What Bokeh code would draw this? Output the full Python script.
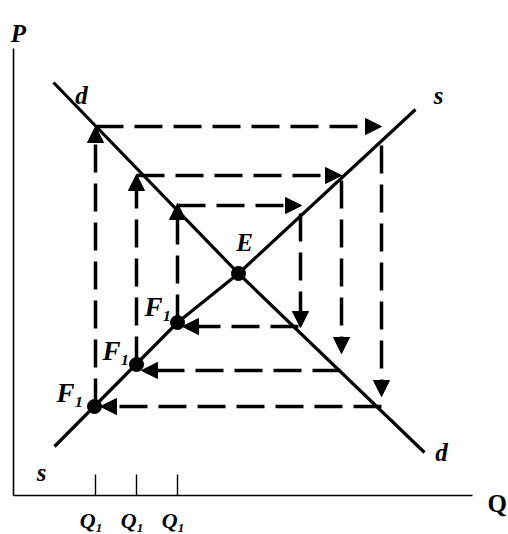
from bokeh.plotting import figure
from bokeh.models import Range1d, Arrow, NormalHead, ColumnDataSource
from bokeh.embed import file_html
from bokeh.resources import INLINE
from bokeh.core.properties import value

# ---- data (Q, P units) ----
axis_q = [0, 459]          # horizontal axis extent
axis_p = [0, 447]          # vertical axis extent

d_q = [40, 225, 411]       # demand curve
d_p = [413, 222, 43]
s_q = [41, 164, 225, 402]  # supply curve
s_p = [49, 173, 222, 386]

e_q = [225]                # equilibrium E
e_p = [222]

f_q = [81, 123, 164]       # F1 points
f_p = [89, 131, 173]

q_ticks = [82, 123, 164]
q_tick_labels = ["Q₁", "Q₁", "Q₁"]

# cobweb arrows (start -> end)
arr_q0 = [82, 82, 368, 368, 123, 123, 328, 327, 164, 164, 287, 285]
arr_p0 = [89, 369, 350, 89, 131, 320, 315, 125, 173, 290, 282, 169]
arr_q1 = [82, 368, 368, 87, 123, 328, 328, 128, 164, 288, 287, 169]
arr_p1 = [369, 369, 99, 89, 321, 320, 142, 125, 292, 290, 168, 169]

curve_labels = ["d", "s", "d", "s"]
curve_label_q = [68, 425, 428, 28]
curve_label_p = [400, 400, 43, 23]

f_labels = ["F₁", "F₁", "F₁"]
f_label_q = [43, 89, 131]
f_label_p = [103, 145, 189]

SERIF = value("Liberation Serif")

p = figure(width=508, height=534, output_backend="svg", toolbar_location=None,
           x_range=Range1d(-13, 495), y_range=Range1d(-39, 495),
           x_axis_location=None, y_axis_location=None, min_border=0,
           outline_line_color=None, background_fill_color="white",
           border_fill_color="white")
p.grid.visible = False

# axes
p.line([axis_q[0], axis_q[0]], axis_p, line_color="black", line_width=1.6)
p.line(axis_q, [axis_p[0], axis_p[0]], line_color="black", line_width=1.6)
p.segment(x0=q_ticks, y0=[0] * len(q_ticks), x1=q_ticks, y1=[21] * len(q_ticks),
          line_color="black", line_width=1.4)

# cobweb arrows
src = ColumnDataSource(dict(x0=arr_q0, y0=arr_p0, x1=arr_q1, y1=arr_p1))
arrows = Arrow(end=NormalHead(size=16, fill_color="black", line_color="black", line_width=1),
               source=src, x_start="x0", y_start="y0", x_end="x1", y_end="y1",
               line_color="black", line_width=3.5, line_dash="28 11", level="underlay")
p.add_layout(arrows)

# curves
p.line(d_q, d_p, line_color="black", line_width=3.2)
p.line(s_q, s_p, line_color="black", line_width=3.2)

# points
p.scatter(f_q, f_p, size=14, color="black")
p.scatter(e_q, e_p, size=14, color="black")

# labels
p.text(curve_label_q, curve_label_p, text=curve_labels, text_font=SERIF,
       text_font_style="bold italic", text_font_size="25px", text_align="center",
       text_baseline="alphabetic", text_color="black")
p.text(f_label_q, f_label_p, text=f_labels, text_font=SERIF,
       text_font_style="bold italic", text_font_size="27px", text_align="left",
       text_baseline="alphabetic", text_color="black")
p.text(q_ticks, [-25] * len(q_ticks), text=q_tick_labels, text_font=SERIF,
       text_font_style="bold italic", text_font_size="22px", text_align="center",
       text_baseline="alphabetic", x_offset=-4, text_color="black")
p.text([231], [253], text=["E"], text_font=SERIF, text_font_style="bold italic",
       text_font_size="25px", text_align="center", text_baseline="alphabetic")
p.text([5], [462], text=["P"], text_font=SERIF, text_font_style="bold italic",
       text_font_size="25px", text_align="center", text_baseline="alphabetic")
p.text([474], [-8], text=["Q"], text_font=SERIF, text_font_style="bold",
       text_font_size="25px", text_align="left", text_baseline="alphabetic")

open("out.html", "w").write(file_html(p, INLINE))
